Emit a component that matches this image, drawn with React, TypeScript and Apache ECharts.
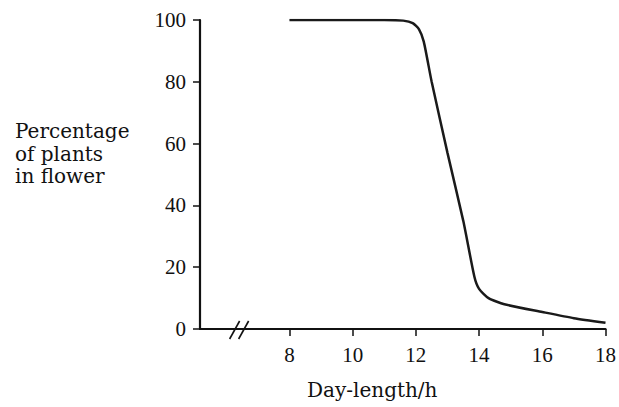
import React, { useEffect, useRef } from "react";
import * as echarts from "echarts";

const dayLength = [8, 11, 11.6, 11.9, 12.1, 12.25, 12.5, 13, 13.5, 13.85, 14, 14.3, 14.8, 16, 17, 18];
const percentFlower = [100, 100, 99.8, 99, 97, 93, 80, 57, 35, 17, 13, 10, 8, 5.5, 3.5, 2];
const xTicks = [8, 10, 12, 14, 16, 18];
const yTitle = "Percentage\nof plants\nin flower";
const xTitle = "Day-length/h";

export default function App() {
  const ref = useRef<HTMLDivElement>(null);
  useEffect(() => {
    const chart = echarts.init(ref.current!, null, { renderer: "svg" });
    const font = "Liberation Serif";
    const titleFont = "DejaVu Serif";
    const data = dayLength.map((d, i) => [d, percentFlower[i]]);
    const titles = [
      {
        type: "text",
        x: 15,
        y: 120,
        style: { text: yTitle, fontFamily: titleFont, fontSize: 20, lineHeight: 22.5, fill: "#111" },
      },
      {
        type: "text",
        x: 307,
        y: 380,
        style: { text: xTitle, fontFamily: titleFont, fontSize: 20, fill: "#111" },
      },
    ];
    chart.setOption({
      animation: false,
      backgroundColor: "#fff",
      textStyle: { fontFamily: font },
      grid: { left: 200, right: 12, top: 20, bottom: 78 },
      xAxis: {
        type: "value",
        min: 5.17,
        max: 18,
        splitLine: { show: false },
        axisLine: { show: true, onZero: false, lineStyle: { color: "#111", width: 2.2 } },
        axisTick: { show: true, customValues: xTicks, length: 7, lineStyle: { color: "#111", width: 1.5 } },
        axisLabel: { customValues: xTicks, color: "#111", fontFamily: font, fontSize: 21, margin: 15 },
      },
      yAxis: {
        type: "value",
        min: 0,
        max: 100,
        interval: 20,
        splitLine: { show: false },
        axisLine: { show: true, lineStyle: { color: "#111", width: 2.2 } },
        axisTick: { show: true, length: 7, lineStyle: { color: "#111", width: 1.5 } },
        axisLabel: { color: "#111", fontFamily: font, fontSize: 21, margin: 14 },
      },
      series: [
        {
          type: "line",
          data,
          smooth: 0.2,
          symbol: "none",
          lineStyle: { color: "#1a1a1a", width: 2.5 },
        },
      ],
      graphic: titles,
    });
    const p = chart.convertToPixel({ gridIndex: 0 }, [6.55, 0]) as number[];
    const bx = p[0], by = p[1];
    chart.setOption({
      graphic: [
        ...titles,
        { type: "rect", shape: { x: bx - 8, y: by - 3, width: 12, height: 6 }, style: { fill: "#fff" } },
        { type: "line", shape: { x1: bx - 14, y1: by + 10, x2: bx - 4, y2: by - 8 }, style: { stroke: "#111", lineWidth: 1.6 } },
        { type: "line", shape: { x1: bx - 5, y1: by + 10, x2: bx + 5, y2: by - 8 }, style: { stroke: "#111", lineWidth: 1.6 } },
      ],
    });
    return () => chart.dispose();
  }, []);
  return <div ref={ref} style={{ position: "fixed", left: 0, top: 0, width: 619, height: 407 }} />;
}
